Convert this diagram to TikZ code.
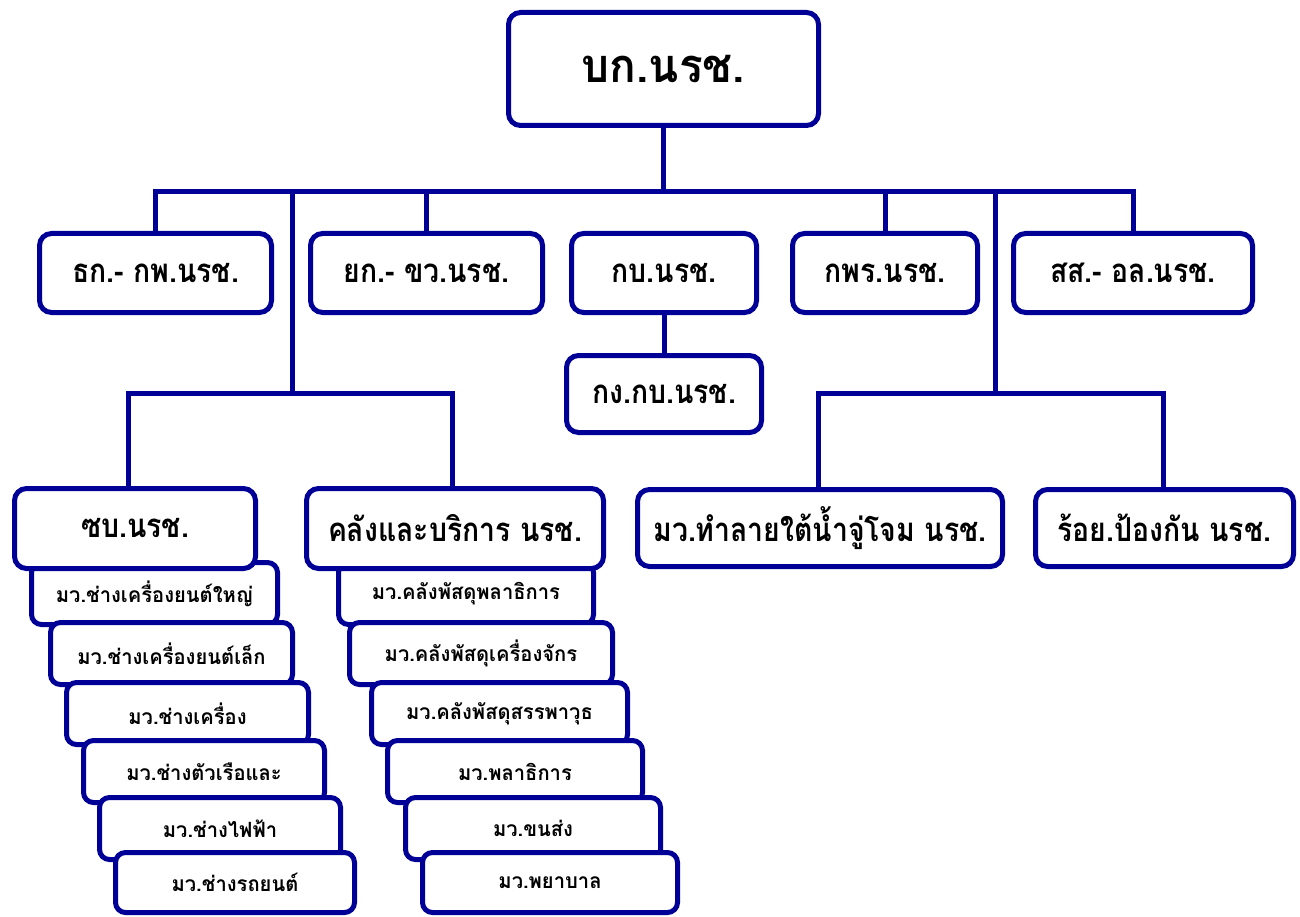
\documentclass[tikz,border=0pt]{standalone}
\usepackage{fontspec}
\usetikzlibrary{backgrounds}
\newfontfamily\thaitop[Script=Thai,FakeStretch=0.94]{Loma}
\newfontfamily\thaimid[Script=Thai,FakeStretch=0.86]{Loma}
\newfontfamily\thaisub[Script=Thai,FakeStretch=0.96]{Loma}
\definecolor{navy}{RGB}{0,0,150}
\begin{document}
\begin{tikzpicture}[x=1pt,y=-1pt,
  box/.style={draw=navy, line width=5pt, rounded corners=12pt, fill=white, inner sep=0pt, text=black, font=\thaimid\bfseries\fontsize{33}{36}\selectfont},
  topbox/.style={box, font=\thaitop\bfseries\fontsize{47}{50}\selectfont},
  subbox/.style={box, rounded corners=10pt, font=\thaisub\bfseries\fontsize{21}{24}\selectfont},
  conn/.style={draw=navy, line width=5pt}]
\useasboundingbox (0,0) rectangle (1300,917);
% boxes
\node[topbox, minimum width=310, minimum height=113] (top) at (663.5,69) {บก.นรช.};
\node[box, minimum width=232, minimum height=79] (dk) at (155.5,273) {ธก.- กพ.นรช.};
\node[box, minimum width=232, minimum height=79] (yk) at (426.5,273) {ยก.- ขว.นรช.};
\node[box, minimum width=185, minimum height=79] (kb) at (664,273) {กบ.นรช.};
\node[box, minimum width=185, minimum height=79] (kpr) at (885,273) {กพร.นรช.};
\node[box, minimum width=239, minimum height=79] (ss) at (1133,273) {สส.- อล.นรช.};
\node[box, minimum width=195, minimum height=77] (kg) at (664,394) {กง.กบ.นรช.};
\node[box, minimum width=365, minimum height=77] (tl) at (820,528) {มว.ทำลายใต้น้ำจู่โจม นรช.};
\node[box, minimum width=258, minimum height=77] (ry) at (1164.5,528) {ร้อย.ป้องกัน นรช.};
% left stack
\node[subbox, minimum width=246, minimum height=62] (l1) at (154.5,593.5) {มว.ช่างเครื่องยนต์ใหญ่};
\node[subbox, minimum width=242, minimum height=62] (l2) at (171.5,653.5) {มว.ช่างเครื่องยนต์เล็ก};
\node[subbox, minimum width=242, minimum height=62] (l3) at (187.5,713.5) {มว.ช่างเครื่อง};
\node[subbox, minimum width=241, minimum height=62] (l4) at (204,771.5) {มว.ช่างตัวเรือและ};
\node[subbox, minimum width=241, minimum height=62] (l5) at (220,828.5) {มว.ช่างไฟฟ้า};
\node[subbox, minimum width=239, minimum height=60] (l6) at (235,882.5) {มว.ช่างรถยนต์};
\node[box, minimum width=241, minimum height=80] (zb) at (135,528.5) {ซบ.นรช.};
% right stack
\node[subbox, minimum width=255, minimum height=62] (r1) at (466,593.5) {มว.คลังพัสดุพลาธิการ};
\node[subbox, minimum width=263, minimum height=62] (r2) at (481,653.5) {มว.คลังพัสดุเครื่องจักร};
\node[subbox, minimum width=256, minimum height=62] (r3) at (499.5,713.5) {มว.คลังพัสดุสรรพาวุธ};
\node[subbox, minimum width=255, minimum height=62] (r4) at (515,771.5) {มว.พลาธิการ};
\node[subbox, minimum width=255, minimum height=62] (r5) at (533,828.5) {มว.ขนส่ง};
\node[subbox, minimum width=255, minimum height=60] (r6) at (550,882.5) {มว.พยาบาล};
\node[box, minimum width=297, minimum height=80] (kl) at (455,528.5) {คลังและบริการ นรช.};
% connectors
\begin{pgfonlayer}{background}
\coordinate (busy) at (0,192);
\coordinate (jL) at (292,393);
\coordinate (jR) at (995,393);
\coordinate (zbtop) at (128,486);
\coordinate (kltop) at (452,486);
\draw[conn] (top.south) -- (top.south |- busy);
\draw[conn] (dk.north) -- (dk.north |- busy) -- (ss.north |- busy) -- (ss.north);
\draw[conn] (yk.north) -- (yk.north |- busy);
\draw[conn] (kpr.north) -- (kpr.north |- busy);
\draw[conn] (kb.south) -- (kg.north);
\draw[conn] (jL |- busy) -- (jL);
\draw[conn] (jR |- busy) -- (jR);
\draw[conn] (zbtop) -- (zbtop |- jL) -- (kltop |- jL) -- (kltop);
\draw[conn] ([xshift=-2pt]tl.north) -- ([xshift=-2pt]tl.north |- jR) -- ([xshift=-1.5pt]ry.north |- jR) -- ([xshift=-1.5pt]ry.north);
\end{pgfonlayer}
\end{tikzpicture}
\end{document}
